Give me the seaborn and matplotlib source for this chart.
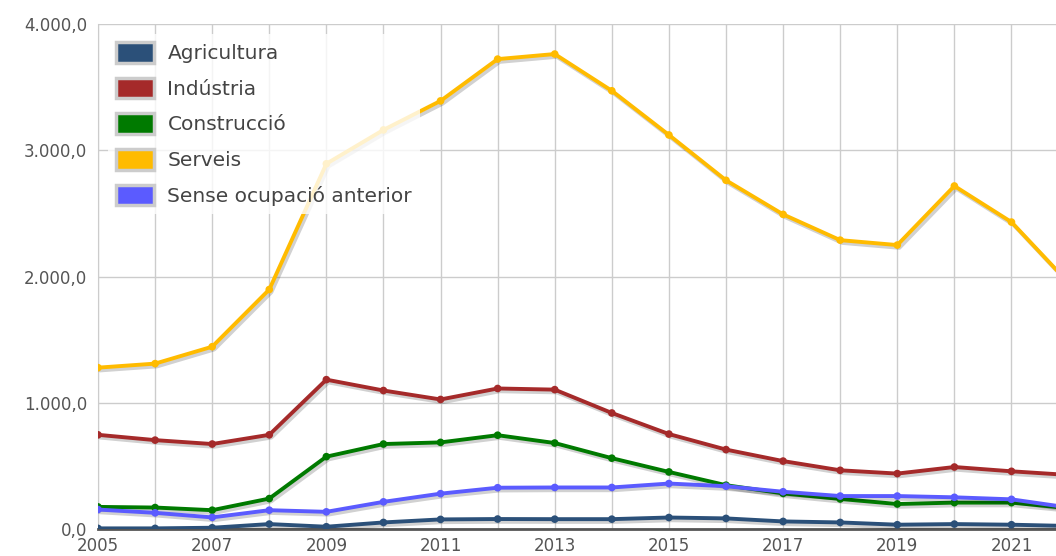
import pandas as pd
import matplotlib.pyplot as plt
import matplotlib.patheffects as pe
from matplotlib.patches import Patch
from matplotlib.ticker import FuncFormatter
import seaborn as sns

years = list(range(2005, 2023))
agricultura = [5, 5, 10, 39, 18, 52, 76, 79, 78, 78, 91, 84, 60, 52, 34, 39, 34, 24]
industria = [746, 704, 673, 746, 1183, 1097, 1026, 1113, 1104, 919, 752, 629, 538, 465, 439, 491, 457, 428]
construccio = [175, 170, 149, 241, 573, 673, 686, 743, 681, 561, 452, 347, 282, 238, 198, 209, 209, 165]
serveis = [1278, 1310, 1444, 1897, 2893, 3161, 3391, 3722, 3762, 3471, 3121, 2762, 2492, 2288, 2249, 2717, 2431, 1950]
sense_ocupacio = [154, 128, 92, 149, 136, 215, 280, 327, 329, 329, 360, 339, 295, 261, 261, 251, 235, 170]

series = ['Agricultura', 'Indústria', 'Construcció', 'Serveis', 'Sense ocupació anterior']
colors = ['#2B5079', '#A52A2A', '#007A00', '#FFBB00', '#5B5BFF']

df = pd.DataFrame({
    'any': years * 5,
    'valor': agricultura + industria + construccio + serveis + sense_ocupacio,
    'sector': [s for s in series for _ in years],
})

sns.set_style("white")
plt.rcParams['font.family'] = ['DejaVu Sans']

fig = plt.figure(figsize=(10.56, 5.56), dpi=100)
ax = fig.add_axes([98 / 1056, 27 / 556, 958 / 1056, 505 / 556])

sns.lineplot(data=df, x='any', y='valor', hue='sector', hue_order=series,
             palette=colors, marker='o', markersize=5.5, markeredgewidth=0,
             linewidth=2.8, legend=False, ax=ax, zorder=3)

for line in ax.get_lines():
    line.set_path_effects([pe.SimpleLineShadow(offset=(1.5, -2), shadow_color='#000000', alpha=0.18),
                           pe.Normal()])

ax.set_xlim(2005, 2021.78)
ax.set_ylim(0, 4000)
ax.set_xticks(range(2005, 2022, 2))
ax.set_xticks(range(2005, 2022), minor=True)
ax.set_yticks([0, 1000, 2000, 3000, 4000])
ax.yaxis.set_major_formatter(FuncFormatter(lambda v, p: f"{v:,.1f}".replace(',', 'X').replace('.', ',').replace('X', '.')))
ax.grid(True, which='both', axis='x', color='#cccccc', linewidth=1)
ax.grid(True, which='major', axis='y', color='#cccccc', linewidth=1)
ax.set_axisbelow(True)
ax.tick_params(axis='both', which='both', length=0, labelsize=12, labelcolor='#555555')
ax.tick_params(axis='x', pad=6)
ax.tick_params(axis='y', pad=8)
ax.set_xlabel('')
ax.set_ylabel('')
for side in ['top', 'right']:
    ax.spines[side].set_visible(False)
ax.spines['left'].set_color('#cccccc')
ax.spines['bottom'].set_color('#555555')
ax.spines['bottom'].set_linewidth(2)

handles = [Patch(facecolor=c, edgecolor='#cccccc', linewidth=2.5, label=s) for s, c in zip(series, colors)]
leg = ax.legend(handles=handles, loc='upper left', bbox_to_anchor=(0.0, 1.0),
                fontsize=14.5, frameon=True, fancybox=False, handlelength=1.9, handleheight=1.2,
                labelspacing=0.72, handletextpad=0.65, borderpad=0.4, labelcolor='#444444')
leg.get_frame().set_facecolor('white')
leg.get_frame().set_alpha(0.8)
leg.get_frame().set_edgecolor('none')
leg.set_zorder(5)

plt.savefig('out.png', dpi=100)
plt.close()
